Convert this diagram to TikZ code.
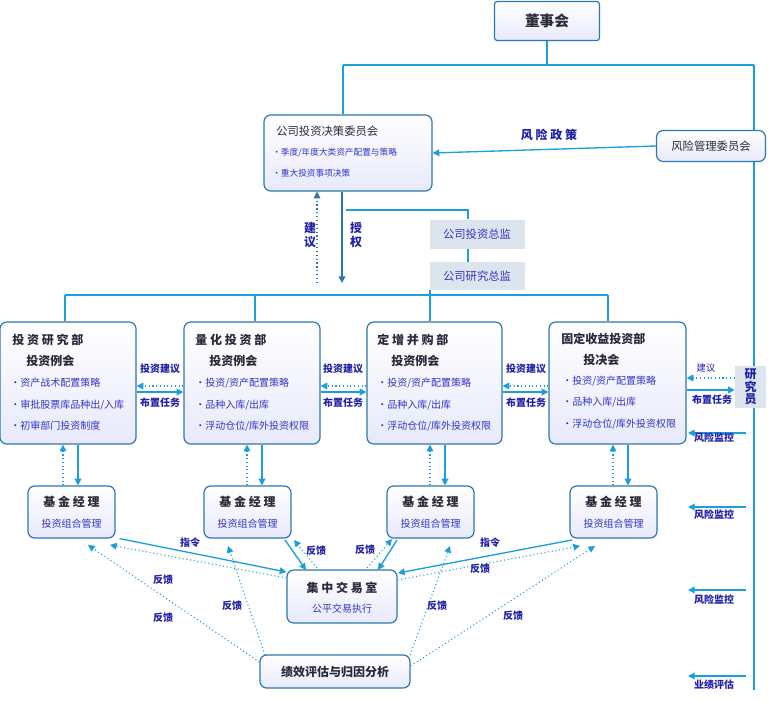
\documentclass[tikz,border=0pt]{standalone}
\usepackage{fontspec}
\setmainfont{Noto Sans CJK SC}
\usetikzlibrary{arrows.meta,shadings}
\definecolor{ln}{HTML}{1A9FDC}
\definecolor{bd}{HTML}{2C78AE}
\definecolor{lb}{HTML}{2020A8}
\definecolor{tx}{HTML}{2A2A3A}
\definecolor{bt}{HTML}{3535C8}
\definecolor{gb}{HTML}{DCE4EE}
\tikzset{
 box/.style={draw=bd,line width=0.9pt,rounded corners=5pt,top color=white,bottom color=gb!80!blue!30,shading angle=0,inner sep=0},
 gbox/.style={fill=gb,inner sep=0},
 l/.style={draw=ln,line width=1pt},
 a/.style={l,-{Triangle[length=5pt,width=5pt]}},
 d/.style={draw=ln,line width=0.8pt,dotted,-{Triangle[length=5pt,width=5pt]}},
 lab/.style={text=lb,font=\bfseries\fontsize{7.5}{8}\selectfont,inner sep=1pt},
 ttl/.style={text=tx,font=\bfseries\fontsize{9}{10}\selectfont,anchor=west,inner sep=0},
 bul/.style={text=bt,font=\fontsize{7.5}{8}\selectfont,anchor=west,inner sep=0},
 sub/.style={text=bt,font=\fontsize{7.5}{8}\selectfont,inner sep=0}
}
\begin{document}
\begin{tikzpicture}[x=0.75pt,y=-0.75pt]
\useasboundingbox (0,0) rectangle (768,703);
% boards
\node[box,minimum width=105*0.75pt,minimum height=39*0.75pt,rounded corners=2pt] (board) at (547,21) {};
\node[ttl,anchor=center,font=\bfseries\fontsize{11}{12}\selectfont] at (board) {董事会};
\node[box,minimum width=168*0.75pt,minimum height=76*0.75pt] (cidc) at (348,153) {};
\node[ttl,font=\fontsize{8.5}{9}\selectfont] at (276,131) {公司投资决策委员会};
\node[bul,font=\fontsize{6.5}{7}\selectfont] at (272,153) {•季度/年度大类资产配置与策略};
\node[bul,font=\fontsize{6.5}{7}\selectfont] at (272,173) {•重大投资事项决策};
\node[box,minimum width=109*0.75pt,minimum height=31*0.75pt] (risk) at (711,146) {};
\node[text=tx,font=\fontsize{8.5}{9}\selectfont] at (risk) {风险管理委员会};
\coordinate (j1) at (547,65);
\coordinate (jl) at (343,65);
\coordinate (jr) at (754,65);
\coordinate (rb) at (754,690);
\draw[l] (board.south) -- (j1) (jl) -- (jr) (jl) -- (cidc.north -| jl) (jr) -- (risk.north -| jr) (risk.south -| jr) -- (rb);
\draw[a] (risk.west) -- (cidc.east);
\node[lab,font=\bfseries\fontsize{9}{10}\selectfont] at (549,135) {风 险 政 策};
% authorization
\coordinate (auth) at (342,283);
\coordinate (sug) at (317,283);
\draw[draw=bd,line width=1pt,-{Triangle[length=5pt,width=5pt]}] (cidc.south -| auth) -- (auth);
\draw[draw=bd,line width=0.9pt,dotted,-{Triangle[length=5pt,width=5pt]}] (sug) -- (cidc.south -| sug);
\node[lab,font=\bfseries\fontsize{9}{10}\selectfont,align=center] at (310,235) {建\\议};
\node[lab,font=\bfseries\fontsize{9}{10}\selectfont,align=center] at (356,235) {授\\权};
\node[gbox,minimum width=95*0.75pt,minimum height=29*0.75pt] (cio) at (477,234) {};
\node[sub,font=\fontsize{8.5}{9}\selectfont] at (cio) {公司投资总监};
\node[gbox,minimum width=95*0.75pt,minimum height=28*0.75pt] (cro) at (477,276) {};
\node[sub,font=\fontsize{8.5}{9}\selectfont] at (cro) {公司研究总监};
\coordinate (t1) at (346,210);
\coordinate (t2) at (468,210);
\draw[l] (t1) -- (t2) -- (cio.north -| t2);
\draw[l] (cio.south -| t2) -- (cro.north -| t2);
% departments
\node[box,minimum width=136*0.75pt,minimum height=122*0.75pt] (d1) at (68,383) {};
\node[box,minimum width=136*0.75pt,minimum height=122*0.75pt] (d2) at (252,383) {};
\node[box,minimum width=135*0.75pt,minimum height=122*0.75pt] (d3) at (434.5,383) {};
\node[box,minimum width=137*0.75pt,minimum height=122*0.75pt] (d4) at (617.5,383) {};
\coordinate (b1) at (65,295);\coordinate (b2) at (255,295);\coordinate (b3) at (430,295);\coordinate (b4) at (608,295);
\draw[l] (b1) -- (b4);
\draw[l] (cro.south -| b3) -- (b3);
\foreach \b/\dd in {b1/d1,b2/d2,b3/d3,b4/d4} \draw[l] (\b) -- (\dd.north -| \b);
\node[ttl] at (12,340) {投 资 研 究 部};
\node[ttl] at (26,361) {投资例会};
\node[bul] at (10,383) {•资产战术配置策略};
\node[bul] at (10,405) {•审批股票库品种出/入库};
\node[bul] at (10,426) {•初审部门投资制度};
\node[ttl] at (195,340) {量 化 投 资 部};
\node[ttl] at (209,361) {投资例会};
\node[bul] at (195,383) {•投资/资产配置策略};
\node[bul] at (195,405) {•品种入库/出库};
\node[bul] at (195,426) {•浮动仓位/库外投资权限};
\node[ttl] at (377,340) {定 增 并 购 部};
\node[ttl] at (391,361) {投资例会};
\node[bul] at (377,383) {•投资/资产配置策略};
\node[bul] at (377,405) {•品种入库/出库};
\node[bul] at (377,426) {•浮动仓位/库外投资权限};
\node[ttl] at (561,339) {固定收益投资部};
\node[ttl] at (583,360) {投决会};
\node[bul] at (562,381) {•投资/资产配置策略};
\node[bul] at (562,402) {•品种入库/出库};
\node[bul] at (562,424) {•浮动仓位/库外投资权限};
\node[gbox,minimum width=31*0.75pt,minimum height=42*0.75pt] (res) at (750.5,387) {};
\node[lab,font=\bfseries\fontsize{9}{9.5}\selectfont,align=center] at (res) {研\\究\\员};
% between departments
\foreach \x/\y [count=\i] in {d1/d2,d2/d3,d3/d4}{
 \draw[d] ([yshift=-3*0.75pt]\y.west) -- ([yshift=-3*0.75pt]\x.east);
 \draw[a] ([yshift=-9*0.75pt]\x.east) -- ([yshift=-9*0.75pt]\y.west);
}
\node[lab] at (160,369) {投资建议};\node[lab] at (160,403) {布置任务};
\node[lab] at (343,369) {投资建议};\node[lab] at (343,403) {布置任务};
\node[lab] at (526,369) {投资建议};\node[lab] at (526,403) {布置任务};
\draw[d] (res.west |- 0,378) -- (d4.east |- 0,378);
\draw[a] (d4.east |- 0,390) -- (res.west |- 0,390);
\node[lab,font=\fontsize{7}{7.5}\selectfont] at (706,368) {建议};
\node[lab] at (712,400) {布置任务};
% monitor arrows
\foreach \yy/\tt/\ly in {433/风险监控/438,507/风险监控/515,590/风险监控/600,676/业绩评估/685}{
 \coordinate (m\yy) at (746,\yy);
 \draw[a] (m\yy) -- (688,\yy);
 \node[lab] at (714,\ly) {\tt};
}
% fund managers
\foreach \i/\cx in {1/71.5,2/247.5,3/430.5,4/613.5}{
 \node[box,minimum width=87*0.75pt,minimum height=52*0.75pt] (f\i) at (\cx,512) {};
 \node[ttl,anchor=center] at (\cx,502) {基 金 经 理};
 \node[sub] at (\cx,524) {投资组合管理};
}
\foreach \i/\s/\dt in {1/78/63,2/262/247,3/445/430,4/628/613}{
 \draw[a] (d\i.south -| \s,0) -- (f\i.north -| \s,0);
 \draw[d] (f\i.north -| \dt,0) -- (d\i.south -| \dt,0);
}
% trading & performance
\node[box,minimum width=110*0.75pt,minimum height=53*0.75pt] (tr) at (342,596.5) {};
\node[ttl,anchor=center] at (342,588) {集 中 交 易 室};
\node[sub] at (342,609) {公平交易执行};
\node[box,minimum width=150*0.75pt,minimum height=33*0.75pt] (pe) at (335,671.5) {};
\node[ttl,anchor=center] at (pe) {绩效评估与归因分析};
% trading links
\draw[a] (f1.south east) ++(4*0.75pt,0) -- (tr.north west |- 0,572);
\draw[d] (tr.west |- 0,578) -- (110,545);
\draw[a] (285,540) -- (306,570);
\draw[d] (317,568) -- (294,540);
\draw[a] (397,540) -- (378,570);
\draw[d] (367,568) -- (392,539);
\draw[a] (572,540) -- (398,573);
\draw[d] (tr.east |- 0,580) -- (580,546);
\draw[d] (pe.west |- 0,662) -- (88,545);
\draw[d] (265,655) -- (228,546);
\draw[d] (410,655) -- (450,546);
\draw[d] (pe.east |- 0,666) -- (595,546);
\node[lab] at (190,543) {指令};
\node[lab] at (163,580) {反馈};
\node[lab] at (316,551) {反馈};
\node[lab] at (365,550) {反馈};
\node[lab] at (490,543) {指令};
\node[lab] at (480,569) {反馈};
\node[lab] at (232,606) {反馈};
\node[lab] at (163,618) {反馈};
\node[lab] at (437,606) {反馈};
\node[lab] at (513,616) {反馈};
\end{tikzpicture}
\end{document}
